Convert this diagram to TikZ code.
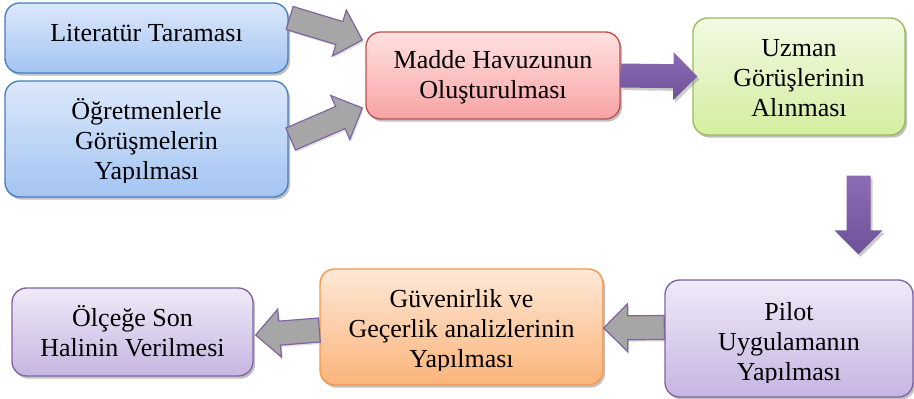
\documentclass[tikz,border=0pt]{standalone}
\usepackage{fontspec}
\newfontfamily\timesfont{Liberation Serif}
\usetikzlibrary{calc, shadows}

\definecolor{bluetop}{HTML}{DCE8FB}
\definecolor{bluebot}{HTML}{A3C4F2}
\definecolor{blueline}{HTML}{4A7EBB}
\definecolor{redtop}{HTML}{FFE1E1}
\definecolor{redbot}{HTML}{F8A3A3}
\definecolor{redline}{HTML}{C0504D}
\definecolor{greentop}{HTML}{F3FAE3}
\definecolor{greenbot}{HTML}{D3EEA0}
\definecolor{greenline}{HTML}{9BBB59}
\definecolor{purptop}{HTML}{EFEAF7}
\definecolor{purpbot}{HTML}{C6B5E2}
\definecolor{purpline}{HTML}{8064A2}
\definecolor{orangetop}{HTML}{FEE8D6}
\definecolor{orangebot}{HTML}{FBB47A}
\definecolor{orangeline}{HTML}{F79646}
\definecolor{arrowgray}{HTML}{A6A6A6}
\definecolor{arrowtop}{HTML}{8A6CB5}
\definecolor{arrowbot}{HTML}{6E5297}

\newcommand{\topstrut}{\rule{0pt}{18pt}}
% block arrow: #1 style, #2 start, #3 tip
\newcommand{\fatarrow}[3]{%
  \coordinate (fa-h) at ($(#3)!18pt!(#2)$);
  \path[#1] ($(#2)!9pt!90:(#3)$) -- ($(fa-h)!9pt!-90:(#2)$) -- ($(fa-h)!18pt!-90:(#2)$) -- (#3)
    -- ($(fa-h)!18pt!90:(#2)$) -- ($(fa-h)!9pt!90:(#2)$) -- ($(#2)!9pt!-90:(#3)$) -- cycle;}

\begin{document}
\begin{tikzpicture}[x=0.75pt, y=-0.75pt,
    box/.style={rounded corners=11pt, line width=1pt,
      drop shadow={shadow xshift=1.5pt, shadow yshift=-2pt, fill=black!55, opacity=0.45}},
    bluebox/.style={box, draw=blueline, top color=bluetop, bottom color=bluebot},
    redbox/.style={box, draw=redline, top color=redtop, bottom color=redbot},
    greenbox/.style={box, draw=greenline, top color=greentop, bottom color=greenbot},
    purpbox/.style={box, draw=purpline, top color=purptop, bottom color=purpbot},
    orangebox/.style={box, draw=orangeline, top color=orangetop, bottom color=orangebot},
    txt/.style={anchor=north, align=center, inner sep=0pt, font=\timesfont\fontsize{19.5}{22.5}\selectfont},
    grayarrow/.style={fill=arrowgray, draw=purpline, line width=0.9pt,
      drop shadow={shadow xshift=1pt, shadow yshift=-1.5pt, fill=black!40, opacity=0.3}},
    purparrow/.style={top color=arrowtop, bottom color=arrowbot,
      drop shadow={shadow xshift=1.5pt, shadow yshift=-2pt, fill=black!50, opacity=0.4}}]
  \useasboundingbox (0,0) rectangle (914,399);

  % boxes
  \node[bluebox, minimum width=212.25pt, minimum height=52.5pt] (lit) at (146.5,38) {};
  \node[bluebox, minimum width=212.25pt, minimum height=87pt] (ogr) at (146.5,139) {};
  \node[redbox, minimum width=190.5pt, minimum height=65.25pt] (madde) at (493,75.5) {};
  \node[greenbox, minimum width=159pt, minimum height=87.75pt] (uzman) at (799,76.5) {};
  \node[purpbox, minimum width=186pt, minimum height=87.75pt] (pilot) at (789,338.5) {};
  \node[orangebox, minimum width=212.25pt, minimum height=87pt] (guven) at (461.5,327) {};
  \node[purpbox, minimum width=180.75pt, minimum height=66pt] (olcek) at (132.5,332) {};

  % texts
  \node[txt] (littxt) at ([yshift=-11.25pt]lit.north) {\topstrut Literatür Taraması};
  \begin{scope}
    \clip (ogr.north west) rectangle ($(ogr.south east)+(0,-15)$);
    \node[txt] (ogrtxt) at ([yshift=-11.25pt]ogr.north) {\topstrut Öğretmenlerle\\Görüşmelerin\\Yapılması};
  \end{scope}
  \node[txt] (maddetxt) at ([yshift=-9.5pt]madde.north) {\topstrut Madde Havuzunun\\Oluşturulması};
  \begin{scope}
    \clip (uzman.north west) rectangle ($(uzman.south east)+(0,-17)$);
    \node[txt] (uzmantxt) at ([yshift=-11.25pt]uzman.north) {\topstrut Uzman\\Görüşlerinin\\Alınması};
  \end{scope}
  \begin{scope}
    \clip (pilot.north west) rectangle ($(pilot.south east)+(0,-15)$);
    \node[txt] (pilottxt) at ([yshift=-13pt]pilot.north) {\topstrut Pilot\\Uygulamanın\\Yapılması};
  \end{scope}
  \begin{scope}
    \clip (guven.north west) rectangle ($(guven.south east)+(0,-15)$);
    \node[txt] (guventxt) at ([yshift=-11.25pt]guven.north) {\topstrut Güvenirlik ve\\Geçerlik analizlerinin\\Yapılması};
  \end{scope}
  \node[txt] (olcektxt) at ([yshift=-11.25pt]olcek.north) {\topstrut Ölçeğe Son\\Halinin Verilmesi};

  % arrows
  \coordinate (a1s) at ($(lit.east)+(1,-20)$);
  \coordinate (a1e) at ($(madde.west)+(-3,-35.5)$);
  \coordinate (a2s) at ($(ogr.east)+(2,0)$);
  \coordinate (a2e) at ($(madde.west)+(-3,32.5)$);
  \coordinate (p1s) at (madde.east);
  \coordinate (p1e) at ($(uzman.west)+(5,0)$);
  \coordinate (p2s) at ($(uzman.south)+(59.5,40)$);
  \coordinate (p2e) at ($(pilot.north)+(69.5,-25)$);
  \coordinate (g3s) at ($(pilot.west)+(0,-11)$);
  \coordinate (g3e) at ($(guven.east)+(0,1)$);
  \coordinate (g4s) at ($(guven.west)+(0,3)$);
  \coordinate (g4e) at ($(olcek.east)+(2,3)$);
  \fatarrow{grayarrow}{a1s}{a1e}
  \fatarrow{grayarrow}{a2s}{a2e}
  \fatarrow{purparrow}{p1s}{p1e}
  \fatarrow{purparrow}{p2s}{p2e}
  \fatarrow{grayarrow}{g3s}{g3e}
  \fatarrow{grayarrow}{g4s}{g4e}
\end{tikzpicture}
\end{document}
